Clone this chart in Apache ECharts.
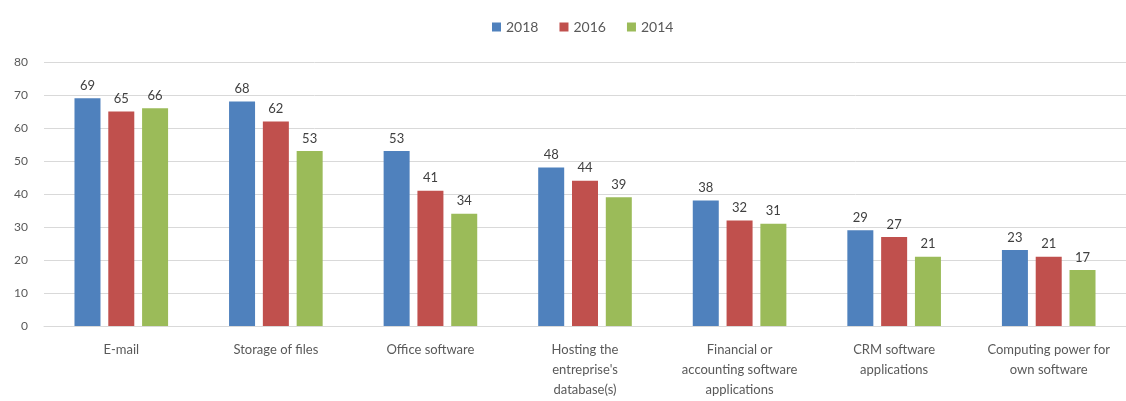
<!DOCTYPE html>
<html>
<head>
<meta charset="utf-8">
<script src="https://cdn.jsdelivr.net/npm/echarts@6/dist/echarts.min.js"></script>
<style>
  html, body { margin: 0; padding: 0; background: #ffffff; }
  #chart { width: 1126px; height: 401px; }
</style>
</head>
<body>
<div id="chart"></div>
<script>
// Cloud services used by enterprises, by year (%)
const categories = [
  'E-mail',
  'Storage of files',
  'Office software',
  "Hosting the\nentreprise's\ndatabase(s)",
  'Financial or\naccounting software\napplications',
  'CRM software\napplications',
  'Computing power for\nown software'
];
const values2018 = [69, 68, 53, 48, 38, 29, 23];
const values2016 = [65, 62, 41, 44, 32, 27, 21];
const values2014 = [66, 53, 34, 39, 31, 21, 17];
const yTicks = { min: 0, max: 80, interval: 10 };

const font = 'Lato, "Open Sans", sans-serif';
const textGray = '#595959';

function barSeries(name, data, color) {
  return {
    name: name,
    type: 'bar',
    data: data,
    barWidth: 26,
    barGap: '30%',
    itemStyle: { color: color },
    label: {
      show: true,
      position: 'top',
      distance: 6,
      color: '#404040',
      fontFamily: font,
      fontSize: 13
    }
  };
}

const chart = echarts.init(document.getElementById('chart'));
chart.setOption({
  animation: false,
  textStyle: { fontFamily: font },
  legend: {
    top: 15,
    left: 487,
    itemWidth: 9,
    itemHeight: 9,
    itemGap: 21,
    icon: 'rect',
    textStyle: { color: textGray, fontSize: 14, fontFamily: font },
    data: ['2018', '2016', '2014']
  },
  grid: { left: 44, right: 0, top: 62, bottom: 75, containLabel: false },
  xAxis: {
    type: 'category',
    data: categories,
    axisTick: { show: false },
    axisLine: { lineStyle: { color: '#d9d9d9' } },
    axisLabel: {
      color: textGray,
      fontSize: 13,
      fontFamily: font,
      lineHeight: 20,
      margin: 14,
      interval: 0
    }
  },
  yAxis: {
    type: 'value',
    min: yTicks.min,
    max: yTicks.max,
    interval: yTicks.interval,
    axisLine: { show: false },
    axisTick: { show: false },
    splitLine: { lineStyle: { color: '#d9d9d9' } },
    axisLabel: { color: textGray, fontSize: 12, fontFamily: font, margin: 16 }
  },
  series: [
    barSeries('2018', values2018, '#4F81BD'),
    barSeries('2016', values2016, '#C0504D'),
    barSeries('2014', values2014, '#9BBB59')
  ]
});
</script>
</body>
</html>
